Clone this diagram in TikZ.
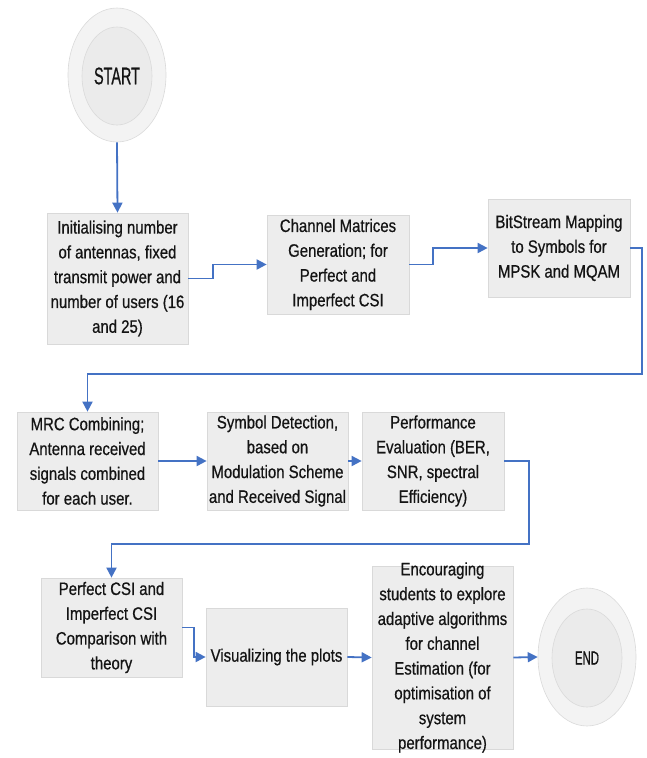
\documentclass[tikz,border=0pt]{standalone}
\usepackage{fontspec}
\setmainfont[FakeStretch=0.83,FakeBold=0.6]{Liberation Sans}
\newfontfamily\circfont[FakeStretch=0.6,FakeBold=0.6]{Liberation Sans}
\usetikzlibrary{shapes.geometric,arrows.meta,calc}
\definecolor{arrowblue}{HTML}{4472C4}
\definecolor{boxfill}{HTML}{EDEDED}
\definecolor{boxline}{HTML}{D9D9D9}
\definecolor{outerfill}{HTML}{F3F3F3}
\definecolor{innerfill}{HTML}{EBEBEB}
\definecolor{circline}{HTML}{DADADA}
\definecolor{txt}{HTML}{141414}
\begin{document}
\begin{tikzpicture}[x=1pt,y=-1pt,
  box/.style={draw=boxline, fill=boxfill, line width=0.7pt, inner sep=0pt, align=center,
    minimum width=141pt, minimum height=98pt, font=\fontsize{18}{24.8}\selectfont, text=txt},
  conn/.style={draw=arrowblue, line width=1.8pt, -{Triangle[length=10pt,width=10pt]}},
  outerc/.style={ellipse, draw=circline, fill=outerfill, line width=0.6pt,
    minimum width=98pt, minimum height=134pt, inner sep=0pt},
  innerc/.style={ellipse, draw=circline, fill=innerfill, line width=0.6pt,
    minimum width=70pt, minimum height=98pt, inner sep=0pt, text=txt}]
\useasboundingbox (0,0) rectangle (646,758);

% start / end
\node[outerc] (start) at (117,75) {};
\node[innerc, font=\circfont\fontsize{24}{28}\selectfont] (startin) at (117,76) {START};
\node[outerc, minimum height=138pt] (end) at (587,657) {};
\node[innerc, font=\circfont\fontsize{19}{22}\selectfont] (endin) at (587,658) {END};

% boxes
\node[box, minimum height=131pt] (b1) at (117.5,278.5) {Initialising number\\of antennas, fixed\\transmit power and\\number of users (16\\and 25)};
\node[box, minimum width=142pt, minimum height=99pt] (b2) at (338,264.5) {Channel Matrices\\Generation; for\\Perfect and\\Imperfect CSI};
\node[box, minimum width=142pt] (b3) at (559,248) {BitStream Mapping\\to Symbols for\\MPSK and MQAM};
\node[box] (b4) at (87.5,461) {MRC Combining;\\Antenna received\\signals combined\\for each user.};
\node[box] (b5) at (277.5,461) {Symbol Detection,\\based on\\Modulation Scheme\\and Received Signal};
\node[box, minimum width=142pt] (b6) at (433,461) {Performance\\Evaluation (BER,\\SNR, spectral\\Efficiency)};
\node[box, minimum height=99pt] (b7) at (111.5,627.5) {Perfect CSI and\\Imperfect CSI\\Comparison with\\theory};
\node[box] (b8) at (276.5,657) {Visualizing the plots};
\node[box, minimum height=183pt] (b9) at (442.5,657.5) {\parbox[c][150pt][c]{140pt}{\centering Encouraging\\students to explore\\adaptive algorithms\\for channel\\Estimation (for\\optimisation of\\system\\performance)}};

% connectors
\draw[conn] (start.south) -- (b1.north);
\draw[conn] (b1.east) -- ++(25,0) |- (b2.west);
\draw[conn] (b2.east) -- ++(24,0) |- (b3.west);
\draw[conn] (b3.east) -- ++(12,0) -- ++(0,126) -| (b4.north);
\draw[conn] (b4.east) -- (b5.west);
\draw[conn] (b5.east) -- (b6.west);
\draw[conn] (b6.east) -- ++(25,0) -- ++(0,83) -| (b7.north);
\draw[conn] (b7.east) -- ++(12,0) |- (b8.west);
\draw[conn] (b8.east) -- (b9.west);
\draw[conn] (b9.east) -- (end.west);
\end{tikzpicture}
\end{document}
